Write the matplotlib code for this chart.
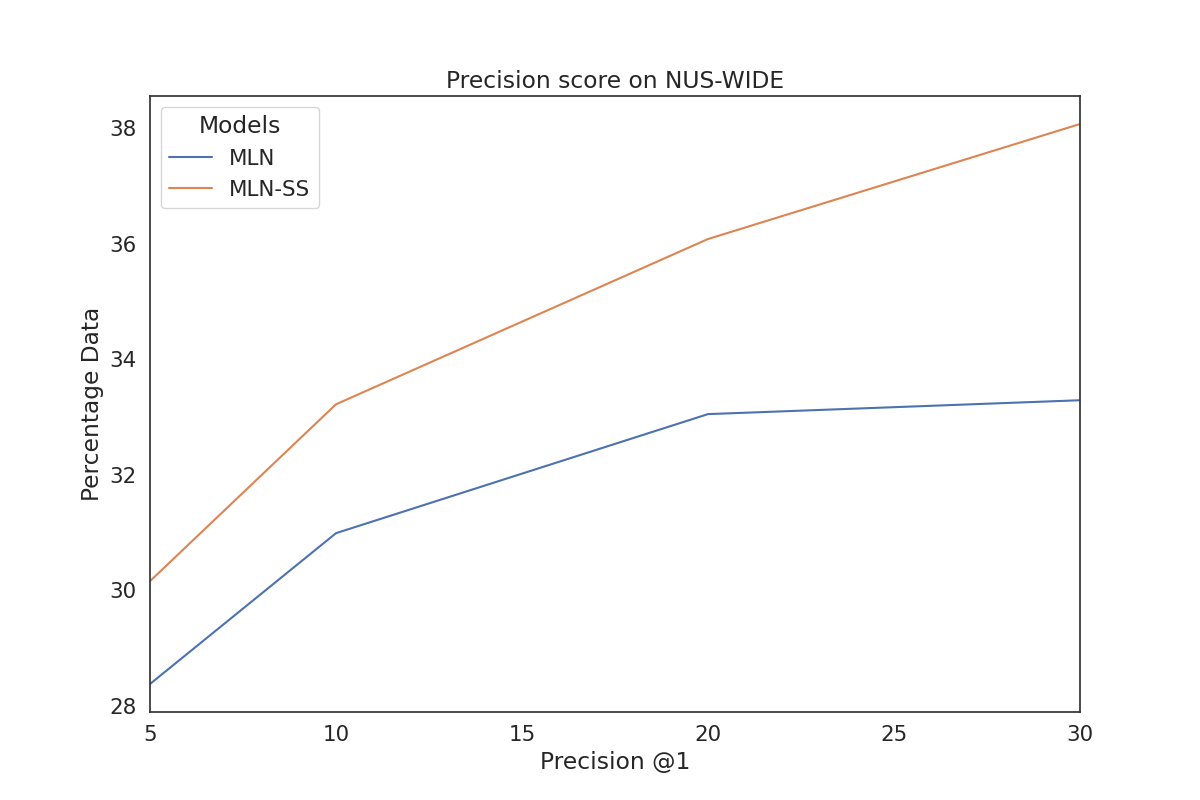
import matplotlib
matplotlib.use("Agg")
import matplotlib.pyplot as plt
import seaborn as sns

sns.set_theme(style="white", font_scale=1.4)

precision_k = [5, 10, 20, 30]
mln = [28.38, 30.99, 33.05, 33.29]
mln_ss = [30.16, 33.22, 36.08, 38.07]

fig, ax = plt.subplots(figsize=(12, 8))
ax.plot(precision_k, mln, label="MLN")
ax.plot(precision_k, mln_ss, label="MLN-SS")
ax.set_xlim(5, 30)
for s in ax.spines.values():
    s.set_color("#333333")
ax.set_title("Precision score on NUS-WIDE")
ax.set_xlabel("Precision @1")
ax.set_ylabel("Percentage Data")
ax.legend(title="Models", loc="upper left")
fig.savefig("out.png", dpi=100)
